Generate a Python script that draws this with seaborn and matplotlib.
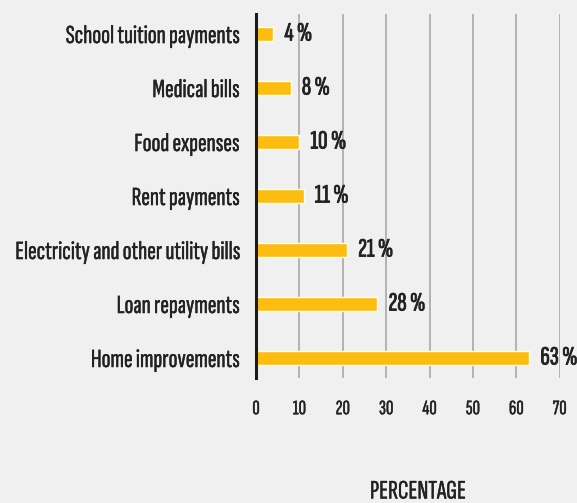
import matplotlib
matplotlib.use('Agg')
import matplotlib.pyplot as plt
import matplotlib.patheffects as pe
import seaborn as sns

# du lieu
categories = ['School tuition payments', 'Medical bills', 'Food expenses', 'Rent payments',
              'Electricity and other utility bills', 'Loan repayments', 'Home improvements']
values = [4, 8, 10, 11, 21, 28, 63]
xticks = [0, 10, 20, 30, 40, 50, 60, 70]

sns.set_theme(style='white')
plt.rcParams['font.family'] = ['Sofia Sans Extra Condensed', 'DejaVu Sans']

bg = '#f0f0f0'
ink = '#222222'
fig = plt.figure(figsize=(5.77, 5.03), dpi=100, facecolor=bg)
renderer = fig.canvas.get_renderer()


def fit_size(text, target_px, size=16):
    # chinh co chu de chieu rong khop voi anh goc
    t = fig.text(0, 0, text, fontsize=size)
    w = t.get_window_extent(renderer).width
    t.remove()
    return size * target_px / w


lab_size = fit_size('School tuition payments', 174)
val_size = fit_size('63 %', 37)
tick_size = fit_size('70', 14)
xl_size = fit_size('PERCENTAGE', 96)

# nét chữ đậm hơn một chút
thin = [pe.withStroke(linewidth=0.3, foreground=ink)]
thick = [pe.withStroke(linewidth=0.6, foreground=ink)]

ax = fig.add_axes([0.4437, 0.2485, 0.5263, 0.7235])
ax.set_facecolor(bg)

sns.barplot(x=values, y=categories, color='#fdbd10', width=0.26, orient='h', ax=ax, saturation=1)

ax.set_xlim(0, 70)
ax.set_ylim(6.37, -0.37)
ax.set_xticks(xticks)
ax.grid(axis='x', color='#a8a8a8', linewidth=1.2)
ax.set_axisbelow(True)
for s in ['top', 'right', 'bottom']:
    ax.spines[s].set_visible(False)
ax.spines['left'].set_color('#1a1a1a')
ax.spines['left'].set_linewidth(2.2)
ax.spines['left'].set_zorder(5)
ax.tick_params(axis='y', length=0, pad=12, labelsize=lab_size, labelcolor=ink)
ax.tick_params(axis='x', length=0, pad=16, labelsize=tick_size, labelcolor=ink)
for t in ax.get_yticklabels() + ax.get_xticklabels():
    t.set_path_effects(thin)
ax.set_xlabel('')
ax.set_ylabel('')

txts = ax.bar_label(ax.containers[0], labels=[f'{v} %' for v in values], padding=8,
                    fontsize=val_size, color=ink)
for t in txts:
    t.set_path_effects(thick)

fig.text(418 / 577, 1 - 492 / 503, 'PERCENTAGE', ha='center', va='center',
         fontsize=xl_size, color=ink, path_effects=thin)

fig.savefig('out.png', dpi=100, facecolor=bg)
